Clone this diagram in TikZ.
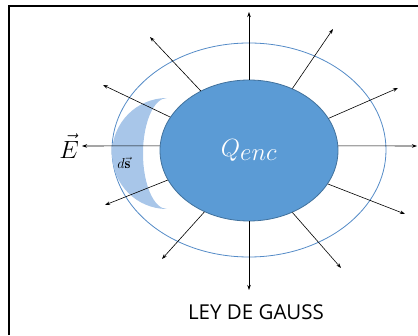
\documentclass[tikz,border=0pt]{standalone}
\usepackage{amsmath,amssymb,bm}
\usepackage{fontspec}
\newfontfamily\labelfont{Open Sans}
\usepackage{tikz}
\usetikzlibrary{arrows.meta,positioning,calc,shapes.geometric}

\definecolor{chargeblue}{RGB}{91,155,213}
\definecolor{chargeedge}{RGB}{65,113,156}
\definecolor{gaussline}{RGB}{84,139,199}
\definecolor{patchblue}{RGB}{168,198,233}

\begin{document}
\begin{tikzpicture}[x=1pt,y=1pt,
    field/.style={-{Stealth[length=5pt,width=3.5pt]},line width=0.6pt,black},
    charge/.style={ellipse,draw=chargeedge,line width=0.8pt,fill=chargeblue,
      minimum width=178pt,minimum height=141pt,inner sep=0pt,text=white}]
    \useasboundingbox (0,0) rectangle (418,335);
    % marco
    \draw[line width=1.6pt] (9,0) -- (9,329) -- (418,329);
    % superficie gaussiana y elemento de area
    \draw[gaussline,line width=0.8pt] (249,185) ellipse [x radius=137,y radius=107];
    \fill[patchblue] (167,237) arc[start angle=90,end angle=270,x radius=55,y radius=55.5]
        arc[start angle=270,end angle=90,x radius=24,y radius=55.5] -- cycle;
    \node[charge] (q) at (249,184.5) {\fontsize{25}{29}\selectfont$Q_{\textstyle enc}$};
    % puntas de las flechas
    \coordinate (tN)  at (249,323);
    \coordinate (tS)  at (249,45);
    \coordinate (tW)  at (82,189);
    \coordinate (tE)  at (417,189);
    \coordinate (tNE) at (333,306);
    \coordinate (tNW) at (150,298);
    \coordinate (tWN) at (103,250);
    \coordinate (tWS) at (105,130);
    \coordinate (tSW) at (162,76);
    \coordinate (tSE) at (341,67);
    \coordinate (tEN) at (398,247);
    \coordinate (tES) at (405,121);
    % campo electrico
    \draw[field] (q.90) -- (tN);
    \draw[field] (q.270) -- (tS);
    \draw[field] (q.177) -- (tW);
    \draw[field] (q.3) -- (tE);
    \draw[field] (q.55) -- (tNE);
    \draw[field] (q.129) -- (tNW);
    \draw[field] (q.157) -- (tWN);
    \draw[field] (q.200) -- (tWS);
    \draw[field] (q.234) -- (tSW);
    \draw[field] (q.305) -- (tSE);
    \draw[field] (q.22) -- (tEN);
    \draw[field] (q.337) -- (tES);
    \node[left=2pt of tW,inner sep=1pt] (e) {\fontsize{25}{29}\selectfont$\vec{E}$};
    \node (ds) at (124,172) {\fontsize{15}{18}\selectfont$d\vec{\mathbf{s}}$};
    \node (title) at (256,23) {\labelfont\fontsize{20.5}{24}\selectfont LEY DE GAUSS};
\end{tikzpicture}
\end{document}
